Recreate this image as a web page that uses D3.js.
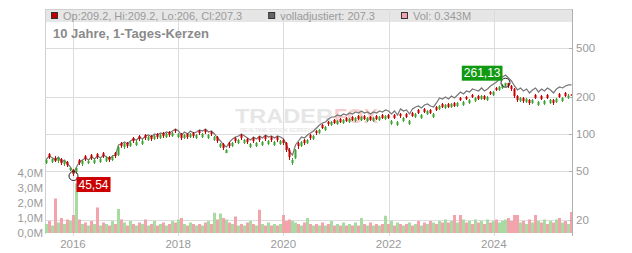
<!DOCTYPE html>
<html><head><meta charset="utf-8">
<script src="https://cdn.jsdelivr.net/npm/d3@7"></script>
<style>
body{margin:0;background:#fff}
svg{display:block;font-family:"Liberation Sans",Arial,Helvetica,sans-serif}
</style>
</head><body>
<svg id="chart" width="632" height="253"></svg>
<script>
// ---------- DATA ----------
const opens = [
58.1,68.8,59.2,63.8,60.3,62.6,57.0,59.2,51.0,51.0,
49.1,61.5,57.0,66.2,58.1,67.5,58.1,68.8,59.2,70.0,
60.3,65.0,61.5,70.0,67.5,84.5,78.4,84.5,79.9,92.8,
81.4,96.3,82.9,98.1,89.4,96.3,91.1,100,92.8,101.9,
94.5,103.8,96.3,107.8,94.5,100,92.8,100,94.5,101.9,
92.8,105.8,94.5,107.8,92.8,103.8,89.4,94.5,78.4,82.9,
70.0,84.5,79.9,92.8,84.5,98.1,84.5,91.1,78.4,92.8,
79.9,94.5,81.4,96.3,82.9,94.5,81.4,94.5,82.9,89.4,
84.5,74.1,58.1,63.8,84.5,79.9,89.4,84.5,98.1,91.1,
105.8,101.9,118.4,107.8,125.2,118.4,130.0,120.6,132.4,122.9,
134.9,125.2,137.5,127.6,140.1,130.0,140.1,127.6,137.5,127.6,
140.1,130.0,142.7,132.4,142.7,120.6,142.7,118.4,145.4,127.6,
145.4,120.6,148.2,137.5,156.7,134.9,159.7,145.4,156.7,137.5,
165.8,159.7,175.4,162.7,175.4,165.8,178.7,168.9,196.2,172.1,
199.9,178.7,207.6,185.5,203.7,192.6,203.7,189.0,219.6,207.6,
236.7,228.0,236.7,245.7,259.9,245.7,232.3,203.7,185.5,196.2,
182.1,189.0,178.7,207.6,172.1,203.7,175.4,207.6,178.7,189.0,
182.1,211.5,185.5,215.5,196.2,209.2];
const highs = [
62.6,70.0,63.8,66.2,65.0,63.8,61.5,60.3,53.9,51.9,
53.9,62.6,61.5,67.5,62.6,68.8,63.8,70.0,63.8,71.4,
66.2,66.2,67.5,71.4,79.9,86.1,84.5,86.1,87.7,94.5,
89.4,98.1,91.1,100,96.3,98.1,98.1,101.9,100,103.8,
101.9,105.8,103.8,109.8,101.9,101.9,100,101.9,101.9,103.8,
100,107.8,101.9,109.8,100,105.8,96.3,96.3,84.5,84.5,
75.5,86.1,86.1,94.5,91.1,100,91.1,92.8,84.5,94.5,
86.1,96.3,87.7,98.1,89.4,96.3,87.7,96.3,89.4,91.1,
86.1,76.9,63.8,75.5,86.1,87.7,91.1,91.1,100,98.1,
107.8,109.8,120.6,116.2,127.6,127.6,132.4,130.0,134.9,132.4,
137.5,134.9,140.1,137.5,142.7,140.1,142.7,137.5,140.1,137.5,
142.7,140.1,145.4,142.7,145.4,130.0,145.4,127.6,148.2,137.5,
148.2,130.0,151.0,148.2,159.7,145.4,162.7,156.7,159.7,148.2,
168.9,172.1,178.7,175.4,178.7,178.7,182.1,182.1,199.9,185.5,
203.7,192.6,211.5,199.9,207.6,207.6,207.6,203.7,223.7,223.7,
241.1,245.7,255.1,261.13,260.5,250.3,236.7,207.6,199.9,199.9,
196.2,192.6,192.6,211.5,185.5,207.6,189.0,211.5,192.6,192.6,
196.2,215.5,199.9,219.6,211.5,209.2];
const lows = [
57.0,62.6,58.1,59.2,58.1,56.0,54.9,53.9,50.0,45.54,
47.3,56.0,54.9,60.3,57.0,61.5,57.0,62.6,58.1,63.8,
59.2,59.2,60.3,63.8,66.2,76.9,75.5,76.9,78.4,84.5,
79.9,87.7,81.4,89.4,87.7,87.7,89.4,91.1,91.1,92.8,
92.8,94.5,94.5,101.9,92.8,89.4,91.1,91.1,92.8,92.8,
91.1,98.1,92.8,100,91.1,96.3,87.7,84.5,76.9,74.1,
70.0,76.9,78.4,84.5,82.9,89.4,82.9,82.9,76.9,84.5,
78.4,86.1,79.9,87.7,81.4,86.1,79.9,86.1,81.4,81.4,
71.4,61.5,56.0,62.6,75.5,78.4,81.4,82.9,89.4,89.4,
98.1,100,109.8,105.8,116.2,116.2,120.6,118.4,122.9,120.6,
125.2,122.9,127.6,125.2,130.0,127.6,130.0,125.2,127.6,125.2,
130.0,127.6,132.4,130.0,132.4,118.4,132.4,116.2,134.9,125.2,
134.9,118.4,137.5,134.9,145.4,132.4,148.2,142.7,145.4,134.9,
153.8,156.7,162.7,159.7,162.7,162.7,165.8,165.8,185.5,168.9,
189.0,175.4,196.2,182.1,189.0,189.0,189.0,185.5,207.6,203.7,
223.7,223.7,232.3,241.1,236.7,223.7,196.2,182.1,182.1,178.7,
178.7,172.1,175.4,192.6,168.9,189.0,172.1,192.6,175.4,172.1,
178.7,196.2,182.1,199.9,192.6,206.0];
const closes = [
61.5,65.0,62.6,60.3,63.8,58.1,60.3,56.0,52.9,47.3,
52.9,58.1,60.3,62.6,60.3,63.8,61.5,65.0,62.6,66.2,
63.8,61.5,65.0,66.2,78.4,79.9,82.9,79.9,84.5,87.7,
86.1,91.1,87.7,92.8,94.5,91.1,96.3,94.5,98.1,96.3,
100,98.1,101.9,105.8,100,92.8,98.1,94.5,100,96.3,
98.1,101.9,100,103.8,98.1,100,94.5,87.7,82.9,76.9,
74.1,79.9,84.5,87.7,89.4,92.8,89.4,86.1,82.9,87.7,
84.5,89.4,86.1,91.1,87.7,89.4,86.1,89.4,87.7,84.5,
74.1,65.0,61.5,74.1,79.9,86.1,84.5,89.4,92.8,96.3,
101.9,107.8,111.9,114.0,120.6,125.2,122.9,127.6,125.2,130.0,
127.6,132.4,130.0,134.9,132.4,137.5,132.4,134.9,130.0,134.9,
132.4,137.5,134.9,140.1,134.9,127.6,134.9,125.2,140.1,134.9,
137.5,127.6,140.1,145.4,148.2,142.7,151.0,153.8,148.2,145.4,
156.7,168.9,165.8,172.1,165.8,175.4,168.9,178.7,189.0,182.1,
192.6,189.0,199.9,196.2,192.6,203.7,192.6,199.9,211.5,219.6,
228.0,241.1,250.3,259.9,245.7,232.3,203.7,189.0,196.2,185.5,
192.6,178.7,189.0,196.2,182.1,192.6,185.5,196.2,189.0,178.7,
192.6,199.9,196.2,203.7,205.0,207.3];
const adjusted = [
62.6,66.2,63.8,61.5,65.0,59.2,61.5,57.0,53.9,48.2,
53.9,59.2,61.5,63.8,61.5,65.0,62.6,66.2,63.8,67.5,
65.0,62.6,66.2,67.5,81.4,82.9,86.1,82.9,87.7,91.1,
89.4,94.5,91.1,96.3,98.1,94.5,100,98.1,101.9,100,
103.8,101.9,105.8,109.8,105.8,98.1,103.8,100,105.8,101.9,
103.8,107.8,105.8,109.8,103.8,105.8,100,92.8,87.7,81.4,
78.4,86.1,91.1,94.5,96.3,100,96.3,92.8,89.4,94.5,
91.1,96.3,92.8,98.1,94.5,96.3,92.8,96.3,94.5,91.1,
81.4,71.4,67.5,81.4,87.7,94.5,92.8,98.1,101.9,105.8,
111.9,118.4,122.9,125.2,132.4,137.5,137.5,142.7,140.1,145.4,
142.7,148.2,145.4,151.0,148.2,153.8,148.2,151.0,145.4,151.0,
148.2,153.8,151.0,156.7,153.8,145.4,153.8,142.7,159.7,153.8,
156.7,145.4,159.7,165.8,168.9,162.7,172.1,175.4,168.9,165.8,
178.7,196.2,192.6,199.9,192.6,203.7,196.2,207.6,219.6,211.5,
223.7,219.6,232.3,228.0,223.7,236.7,223.7,232.3,245.7,255.1,
264.8,280.1,290.8,301.9,285.4,269.8,245.7,228.0,236.7,223.7,
232.3,215.5,228.0,236.7,219.6,232.3,223.7,236.7,228.0,215.5,
232.3,241.1,236.7,245.7,250.3,250.3];
const volumes = [
0.6,0.8,0.5,2.3,0.7,1.0,0.6,0.9,0.8,1.2,
3.3,0.9,0.6,0.7,0.5,0.8,0.6,1.7,0.5,0.7,
0.6,0.5,0.8,0.6,1.6,0.9,0.7,0.5,0.8,0.6,
0.5,0.7,0.6,0.9,0.5,0.6,0.8,0.5,0.6,0.7,
0.5,0.6,0.8,0.7,0.9,1.0,0.6,0.5,0.7,0.6,
0.5,0.6,0.5,0.7,0.8,0.6,1.35,0.9,1.3,1.0,
0.9,0.7,0.6,1.1,0.5,0.6,0.5,0.7,0.8,0.6,
0.5,1.55,0.6,0.5,0.7,0.5,0.6,0.5,0.6,1.2,
0.8,0.9,0.8,0.7,0.6,0.5,0.7,1.0,0.6,0.5,
0.6,0.5,0.7,0.5,0.6,0.8,0.5,0.6,0.5,0.7,
0.5,0.6,0.5,0.7,0.5,1.0,0.6,0.5,0.7,0.5,
0.6,0.5,0.6,1.15,0.6,0.8,0.5,0.7,0.6,0.5,
0.6,0.7,0.5,0.6,0.8,0.5,0.7,0.6,0.8,0.7,
0.6,0.8,0.7,0.9,0.7,0.8,1.2,0.7,1.2,0.9,
0.7,0.8,0.6,0.9,0.7,0.8,0.6,0.9,0.7,0.8,
0.9,0.7,0.8,0.9,1.0,0.8,1.2,1.2,0.7,0.8,
0.6,0.9,0.7,1.2,0.8,0.7,0.9,0.6,0.8,0.7,
0.9,1.0,0.7,0.8,0.6,1.4];
const seriesStart = new Date(2015, 5, 29);   // first candle
const stepHours = 500;                          // ~3-week candles
const priceTicks = [20, 50, 100, 200, 500];
const volTicks = [0, 1, 2, 3, 4];
const volTickLabels = ["0,0M", "1,0M", "2,0M", "3,0M", "4,0M"];
const yearTicks = [2016, 2018, 2020, 2022, 2024];
const legendLabels = ["Op:209.2, Hi:209.2, Lo:206, Cl:207.3", "volladjustiert: 207.3", "Vol: 0.343M"];
const legendColors = ["#c00000", "#666666", "#f2a3ab"];
const titleText = "10 Jahre, 1-Tages-Kerzen";
const lowMark = {index: 9, value: 45.54, label: "45,54"};
const highMark = {index: 153, value: 261.13, label: "261,13"};

// ---------- CHART ----------
const L = 45, R = 572, T = 9, B = 234;
const svg = d3.select("#chart");
const dates = closes.map((_, i) => d3.timeHour.offset(seriesStart, i * stepHours));

const x = d3.scaleTime().domain([new Date(2015, 5, 21), new Date(2025, 5, 27)]).range([L, R]);
const y = d3.scaleLog().domain([20, 500]).range([220, 48]);
const yv = d3.scaleLinear().domain([0, 4]).range([233, 173]);

const RED = "#c80000", GREEN = "#3aa531", PINK = "#f2a3ab", LGREEN = "#a8dba2";
const GRID = "#dcdcdc", TXT = "#9a9a9a";

// legend band
svg.append("rect").attr("x", L).attr("y", T).attr("width", R - L).attr("height", 13).attr("fill", "#e6e6e6");
svg.append("line").attr("x1", L).attr("x2", R).attr("y1", T + 0.5).attr("y2", T + 0.5).attr("stroke", "#cfcfcf");

// grid
const g = svg.append("g");
g.selectAll(".hg").data(priceTicks).join("line")
  .attr("x1", L).attr("x2", R)
  .attr("y1", d => Math.round(y(d)) + 0.5).attr("y2", d => Math.round(y(d)) + 0.5)
  .attr("stroke", GRID);
g.selectAll(".vg").data(yearTicks).join("line")
  .attr("x1", d => Math.round(x(new Date(d, 0, 1))) + 0.5).attr("x2", d => Math.round(x(new Date(d, 0, 1))) + 0.5)
  .attr("y1", T).attr("y2", B + 2)
  .attr("stroke", GRID);
svg.append("line").attr("x1", L + 0.5).attr("x2", L + 0.5).attr("y1", T).attr("y2", B).attr("stroke", "#d0d0d0");

// watermark
const wm = svg.append("g");
wm.append("text").attr("x", 235).attr("y", 123).attr("font-size", 21).attr("font-weight", "bold")
  .attr("fill", "#e6e6e6").attr("textLength", 98).attr("lengthAdjust", "spacingAndGlyphs").text("TRADER");
wm.append("text").attr("x", 334).attr("y", 123).attr("font-size", 21).attr("font-weight", "bold")
  .attr("fill", "#f6cccc").attr("textLength", 44).attr("lengthAdjust", "spacingAndGlyphs").text("FOX");
wm.append("text").attr("x", 240).attr("y", 132).attr("font-size", 6).attr("font-weight", "bold")
  .attr("fill", "#e8e8e8").attr("textLength", 80).text("REALTIME STOCK SCREENER");

// volume bars
svg.append("g").selectAll("rect").data(volumes).join("rect")
  .attr("x", (d, i) => Math.round(x(dates[i])) - 1)
  .attr("y", d => yv(d))
  .attr("width", 3)
  .attr("height", d => yv(0) - yv(d))
  .attr("fill", (d, i) => closes[i] >= opens[i] ? LGREEN : PINK);

// adjusted line
svg.append("path").datum(adjusted)
  .attr("d", d3.line().x((d, i) => Math.round(x(dates[i])) + 0.5).y(d => y(d)))
  .attr("fill", "none").attr("stroke", "#767676").attr("stroke-width", 1.2);

// candles
const cg = svg.append("g");
closes.forEach((c, i) => {
  const o = opens[i];
  const col = c >= o ? GREEN : RED;
  const cx = Math.round(x(dates[i]));
  cg.append("line").attr("x1", cx + 0.5).attr("x2", cx + 0.5)
    .attr("y1", y(highs[i])).attr("y2", y(lows[i])).attr("stroke", col).attr("stroke-width", 1);
  const y0 = Math.min(y(o), y(c)), y1 = Math.max(y(o), y(c));
  cg.append("rect").attr("x", cx - 0.5).attr("y", y0).attr("width", 2)
    .attr("height", Math.max(1, y1 - y0)).attr("fill", col);
});

// right axis
svg.append("line").attr("x1", R + 0.5).attr("x2", R + 0.5).attr("y1", T).attr("y2", B + 2).attr("stroke", "#b0b0b0");
const ra = svg.append("g");
ra.selectAll("line").data(priceTicks).join("line")
  .attr("x1", R - 3).attr("x2", R)
  .attr("y1", d => Math.round(y(d)) + 0.5).attr("y2", d => Math.round(y(d)) + 0.5)
  .attr("stroke", "#b0b0b0");
ra.selectAll("text").data(priceTicks).join("text")
  .attr("x", R + 4).attr("y", d => y(d)).attr("dy", "0.35em")
  .attr("font-size", 11.5).attr("fill", TXT).text(d => d);

// left volume axis
svg.append("g").selectAll("text").data(volTicks).join("text")
  .attr("x", 43).attr("y", d => yv(d)).attr("dy", "0.35em").attr("text-anchor", "end")
  .attr("font-size", 11.5).attr("fill", TXT).text((d, i) => volTickLabels[i]);

// bottom year labels
svg.append("g").selectAll("text").data(yearTicks).join("text")
  .attr("x", d => x(new Date(d, 0, 1))).attr("y", 247.5).attr("text-anchor", "middle")
  .attr("font-size", 11.5).attr("fill", TXT).text(d => d);

// markers
function marker(m, below, fill) {
  const cx = Math.round(x(dates[m.index])) + 0.5, cy = y(m.value);
  svg.append("circle").attr("cx", cx).attr("cy", cy).attr("r", 4.5)
    .attr("fill", "none").attr("stroke", "#222").attr("stroke-width", 1);
  const t = svg.append("text").attr("font-size", 12).attr("fill", "#fff").text(m.label);
  const w = t.node().getComputedTextLength() + 4, h = 15;
  const bx = below ? cx + 3 : cx - 3 - w;
  const by = below ? cy + 1 : cy - 2 - h;
  svg.insert("rect", () => t.node()).attr("x", bx).attr("y", by).attr("width", w).attr("height", h).attr("fill", fill);
  t.attr("x", bx + 2).attr("y", by + 11.5);
}
marker(lowMark, true, "#cc0000");
marker(highMark, false, "#119a11");

// legend
let lx = 51;
legendLabels.forEach((lab, i) => {
  svg.append("rect").attr("x", lx + 0.5).attr("y", 12.5).attr("width", 6).attr("height", 6)
    .attr("fill", legendColors[i]).attr("stroke", "#333").attr("stroke-width", 1);
  const t = svg.append("text").attr("x", lx + 12).attr("y", 19.5).attr("font-size", 11)
    .attr("fill", TXT).text(lab);
  lx = lx + 12 + t.node().getComputedTextLength() + 26;
});

// title
svg.append("text").attr("x", 53).attr("y", 38).attr("font-size", 13).attr("font-weight", "bold")
  .attr("fill", "#8a8a8a").text(titleText);
</script>
</body></html>
